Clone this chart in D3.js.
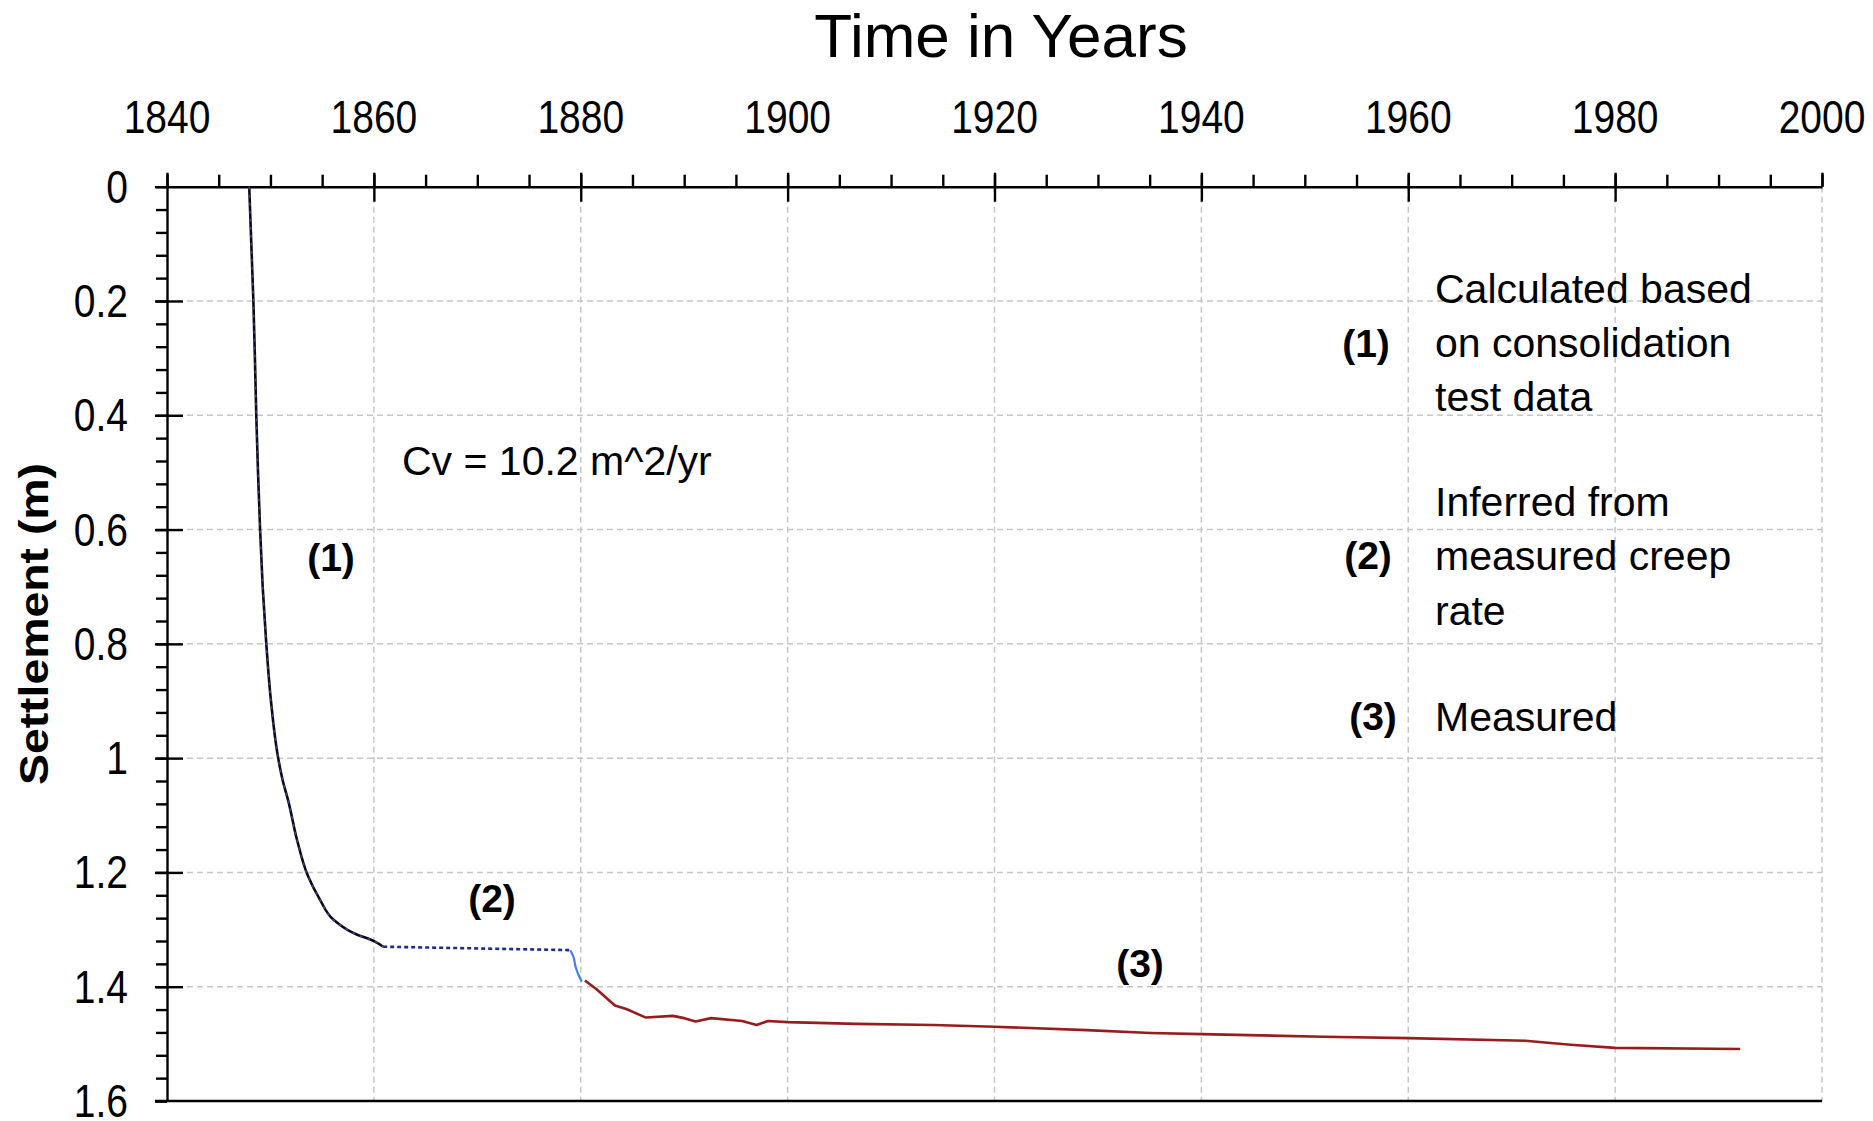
<!DOCTYPE html>
<html>
<head>
<meta charset="utf-8">
<script src="https://cdn.jsdelivr.net/npm/d3@7"></script>
<style>
  body { margin: 0; background: #fff; }
  svg { display: block; }
  text { font-family: "Liberation Sans", Arial, sans-serif; fill: #000; }
</style>
</head>
<body>
<svg id="chart" width="1873" height="1121"></svg>
<script>
// Axis ticks
const yearTicks = [1840, 1860, 1880, 1900, 1920, 1940, 1960, 1980, 2000];
const settlementTicks = [0, 0.2, 0.4, 0.6, 0.8, 1, 1.2, 1.4, 1.6];
const settlementLabels = ["0", "0.2", "0.4", "0.6", "0.8", "1", "1.2", "1.4", "1.6"];

// (1) Calculated from consolidation test data
const calcYears = [1847.95, 1848.15, 1848.35, 1848.5, 1848.63, 1848.8, 1849.0, 1849.25, 1849.6,
  1850.05, 1850.75, 1851.2, 1851.7, 1852.6, 1853.6, 1854.8, 1856.1, 1857.4, 1858.4, 1859.6, 1860.1, 1860.9];
const calcSettlement = [0, 0.1, 0.2, 0.3, 0.4, 0.5, 0.6, 0.7, 0.8,
  0.9, 1.0, 1.04, 1.073, 1.145, 1.205, 1.248, 1.283, 1.300, 1.309, 1.317, 1.321, 1.330];

// (2) Inferred from measured creep rate
const creepYears = [1860.9, 1879.0];
const creepSettlement = [1.330, 1.336];
const stepYears = [1879.0, 1879.3, 1879.5, 1879.8, 1880.1];
const stepSettlement = [1.336, 1.348, 1.365, 1.380, 1.391];

// (3) Measured
const measuredYears = [1880.4, 1881.5, 1883.3, 1884.4, 1886.3, 1888.9, 1890.0, 1891.1, 1892.6,
  1895.6, 1897.0, 1898.1, 1900.0, 1906.7, 1914.1, 1920.0, 1928.9, 1935.1, 1940.0, 1951.8,
  1960.0, 1971.3, 1975.7, 1980.0, 1992.1];
const measuredSettlement = [1.389, 1.404, 1.433, 1.439, 1.454, 1.451, 1.455, 1.461, 1.455,
  1.460, 1.467, 1.460, 1.462, 1.465, 1.467, 1.470, 1.476, 1.481, 1.483, 1.4875,
  1.490, 1.4945, 1.5015, 1.507, 1.509];

const svg = d3.select("#chart");
const plotLeft = 167, plotRight = 1822, plotTop = 186.7, plotBottom = 1101;

const x = d3.scaleLinear().domain([1840, 2000]).range([plotLeft, plotRight]);
const y = d3.scaleLinear().domain([0, 1.6]).range([plotTop, plotBottom]);

const minorYears = d3.range(1840, 2001, 5);
const minorSettle = d3.range(0, 41).map(i => +(i * 0.04).toFixed(2));

// Grid
const grid = svg.append("g").attr("stroke", "#c6c6c6").attr("stroke-width", 1.5)
  .attr("stroke-dasharray", "6,4").attr("fill", "none");
grid.selectAll("line.v").data(yearTicks.slice(1)).join("line").attr("class", "v")
  .attr("x1", d => x(d)).attr("x2", d => x(d)).attr("y1", plotTop).attr("y2", plotBottom);
grid.selectAll("line.h").data(settlementTicks.slice(1, -1)).join("line").attr("class", "h")
  .attr("x1", plotLeft).attr("x2", plotRight).attr("y1", d => y(d)).attr("y2", d => y(d));

// Top axis: minor ticks outward, major ticks crossing the axis line
svg.append("g").attr("transform", `translate(0,${plotTop})`)
  .call(d3.axisTop(x).tickValues(minorYears).tickSize(12).tickFormat(""))
  .call(g => g.select(".domain").remove());
svg.append("g").attr("transform", `translate(0,${plotTop})`)
  .call(d3.axisTop(x).tickValues(yearTicks).tickSize(14).tickFormat("").tickSizeOuter(0));
svg.append("g").attr("transform", `translate(0,${plotTop})`)
  .call(d3.axisBottom(x).tickValues(yearTicks.slice(1, -1)).tickSize(15).tickFormat(""))
  .call(g => g.select(".domain").remove());

// Left axis
svg.append("g").attr("transform", `translate(${plotLeft},0)`)
  .call(d3.axisLeft(y).tickValues(minorSettle).tickSize(11).tickFormat("").tickSizeOuter(0));
svg.append("g").attr("transform", `translate(${plotLeft},0)`)
  .call(d3.axisLeft(y).tickValues(settlementTicks).tickSize(12).tickFormat(""))
  .call(g => g.select(".domain").remove());
svg.append("g").attr("transform", `translate(${plotLeft},0)`)
  .call(d3.axisRight(y).tickValues(settlementTicks.slice(1, -1)).tickSize(16).tickFormat(""))
  .call(g => g.select(".domain").remove());

// Bottom border
svg.append("g").attr("transform", `translate(0,${plotBottom})`)
  .call(d3.axisBottom(x).tickValues([]).tickSizeOuter(0))
  .call(g => g.select(".domain").attr("d", `M${plotLeft - 12},0H${plotRight}`));

svg.selectAll(".domain, .tick line").attr("stroke", "#000").attr("stroke-width", 2.4);

// Text helper with a slight vertical stretch
function label(px, py, str, size, opts = {}) {
  const sy = opts.sy || 1;
  return svg.append("text")
    .attr("transform", `translate(${px},${py}) scale(1,${sy})`)
    .attr("font-size", size)
    .attr("font-weight", opts.bold ? "bold" : "normal")
    .attr("text-anchor", opts.anchor || "start")
    .text(str);
}

// Tick labels
yearTicks.forEach(d => label(x(d), 133, String(d), 39, { anchor: "middle", sy: 1.17 }));
settlementTicks.forEach((d, i) => label(128, y(d) + 16, settlementLabels[i], 39, { anchor: "end", sy: 1.17 }));

// Titles
label(1001, 57, "Time in Years", 62, { anchor: "middle" });
svg.append("text")
  .attr("transform", `translate(48,624) rotate(-90) scale(1.16,1)`)
  .attr("font-size", 40).attr("font-weight", "bold").attr("text-anchor", "middle")
  .text("Settlement (m)");

// Curves
const line = d3.line().x(d => x(d[0])).y(d => y(d[1]));
const smoothY = d3.line().x(d => x(d[0])).y(d => y(d[1])).curve(d3.curveMonotoneY);
const calc = d3.zip(calcYears, calcSettlement);
const creep = d3.zip(creepYears, creepSettlement);
const step = d3.zip(stepYears, stepSettlement);
const measured = d3.zip(measuredYears, measuredSettlement);

svg.append("path").datum(calc).attr("d", smoothY).attr("fill", "none")
  .attr("stroke", "#0a0a0a").attr("stroke-width", 2.6).attr("stroke-linejoin", "round");
svg.append("path").datum(calc).attr("d", smoothY).attr("fill", "none")
  .attr("stroke", "#3a3f9c").attr("stroke-width", 1.6).attr("stroke-dasharray", "3,5");
svg.append("path").datum(creep).attr("d", line).attr("fill", "none")
  .attr("stroke", "#1f2a8e").attr("stroke-width", 2.6).attr("stroke-dasharray", "4,3");
svg.append("path").datum(step).attr("d", smoothY)
  .attr("fill", "none").attr("stroke", "#3f7ef5").attr("stroke-width", 2.2);
svg.append("path").datum(measured).attr("d", line).attr("fill", "none")
  .attr("stroke", "#991c1c").attr("stroke-width", 2.6).attr("stroke-linejoin", "round");

// Annotations
label(402, 475, "Cv = 10.2 m^2/yr", 41);
label(331, 571, "(1)", 39, { bold: true, anchor: "middle" });
label(492, 912, "(2)", 39, { bold: true, anchor: "middle" });
label(1140, 977, "(3)", 39, { bold: true, anchor: "middle" });

label(1366, 357, "(1)", 39, { bold: true, anchor: "middle" });
label(1368, 569, "(2)", 39, { bold: true, anchor: "middle" });
label(1373, 730, "(3)", 39, { bold: true, anchor: "middle" });

const legendLines = [
  ["Calculated based", 303], ["on consolidation", 357], ["test data", 411],
  ["Inferred from", 516], ["measured creep", 570], ["rate", 625],
  ["Measured", 731]
];
legendLines.forEach(([t, by]) => label(1435, by, t, 41));
</script>
</body>
</html>
